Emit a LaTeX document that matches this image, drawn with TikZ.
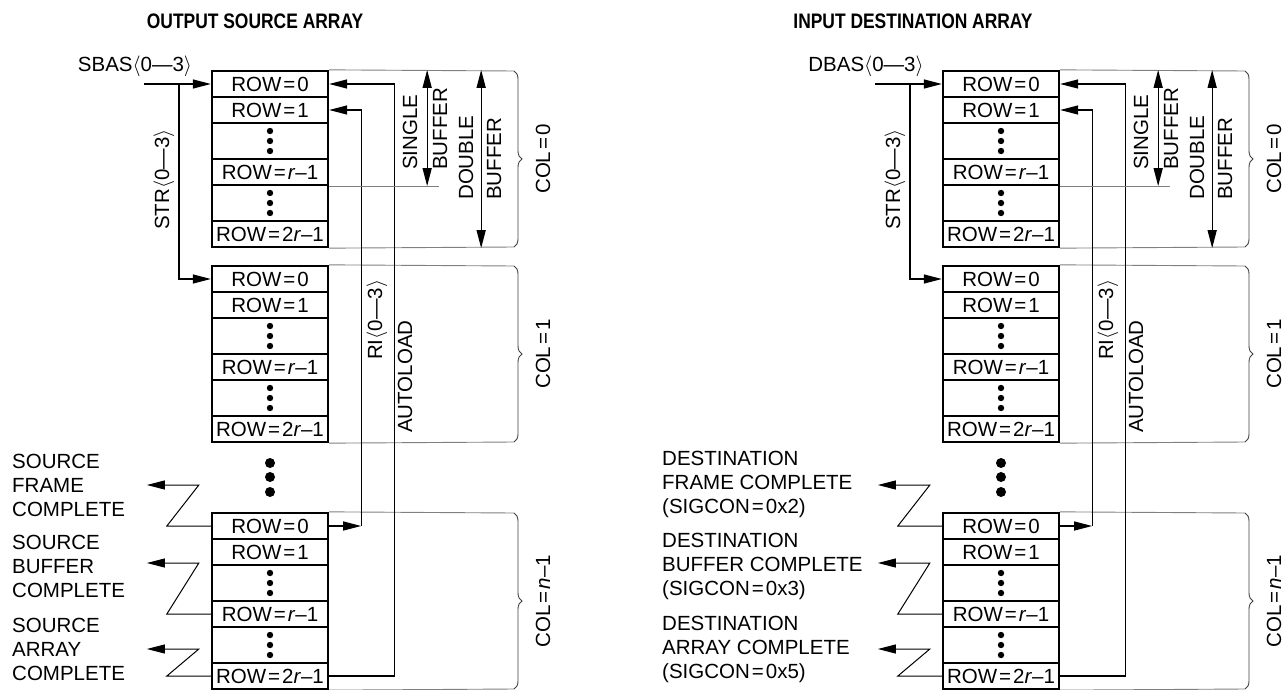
\documentclass[tikz,border=0pt]{standalone}
\usepackage{fontspec}
\setmainfont{Liberation Sans}
\newfontfamily\titlefont[FakeStretch=0.83]{Liberation Sans}
\usetikzlibrary{arrows.meta,decorations.pathreplacing}
\newcommand\eq{\kern2pt=\kern2pt}
\newcommand\rv{\textit{r}}
\newcommand\nv{\textit{n}}
\begin{document}
\begin{tikzpicture}[x=1pt, y=-1pt,
  font=\fontsize{20.5}{24}\selectfont,
  cell/.style={draw, line width=2.3pt, minimum width=116pt, inner sep=0pt},
  link/.style={line width=1.3pt},
  arr/.style={-{Triangle[length=18pt, width=9pt]}},
  dbl/.style={line width=1.3pt, {Triangle[length=18pt, width=9pt]}-{Triangle[length=18pt, width=9pt]}},
  zig/.style={line width=1pt, -{Triangle[length=18pt, width=9pt]}},
  thinline/.style={line width=0.9pt, black!50},
  colbrace/.style={decorate, decoration={brace, amplitude=8pt}, line width=0.9pt, black!75},
  vlabel/.style={rotate=90, anchor=west, inner sep=0pt},
  colname/.style={rotate=90, inner sep=0pt},
  sig/.style={anchor=west, align=left, inner sep=0pt},
  ttl/.style={font=\titlefont\fontsize{21}{24}\selectfont\bfseries}
]
\useasboundingbox (0,0) rectangle (1284,690);
% ---------- titles ----------
\node[ttl] (ttlL) at (255,21) {OUTPUT SOURCE ARRAY};
\node[ttl] (ttlR) at (913,21) {INPUT DESTINATION ARRAY};
% ---------- both arrays: source (L) and destination (R) ----------
\foreach \px/\p/\bas in {0/L/SBAS, 731/R/DBAS}{
  \foreach \k/\yt in {0/71, 1/266, 2/513}{
    \node[cell, minimum height=26pt] (\p\k-0) at (\px+270,\yt+13) {ROW\eq0};
    \node[cell, minimum height=26pt] (\p\k-1) at (\px+270,\yt+39) {ROW\eq1};
    \node[cell, minimum height=36pt] (\p\k-2) at (\px+270,\yt+70) {};
    \node[cell, minimum height=26pt] (\p\k-3) at (\px+270,\yt+101) {ROW\eq\rv–1};
    \node[cell, minimum height=36pt] (\p\k-4) at (\px+270,\yt+132) {};
    \node[cell, minimum height=26pt] (\p\k-5) at (\px+270,\yt+163) {ROW\eq2\rv–1};
    \foreach \dy in {-10,0,10}{
      \fill ([yshift=\dy pt]\p\k-2.center) circle (3.2pt);
      \fill ([yshift=\dy pt]\p\k-4.center) circle (3.2pt);
    }
    % bracket of the column
    \draw[thinline] (\p\k-0.north east) -- (\px+514,\yt);
    \draw[thinline] (\p\k-5.south east) -- (\px+514,\yt+176);
    \draw[colbrace] (\px+514,\yt) -- (\px+514,\yt+176);
  }
  \node[colname] (\p-c0) at (\px+543,159) {COL\eq0};
  \node[colname] (\p-c1) at (\px+543,354) {COL\eq1};
  \node[colname] (\p-c2) at (\px+543,601) {COL\eq\nv–1};
  % columns left out
  \foreach \dy in {463,477,492}
    \fill (\px+270,\dy) circle (5pt);
  % base address and stride
  \node (\p-bas) at (\px+135,66) {\bas$\langle$0—3$\rangle$};
  \coordinate (\p-in) at (\px+144,84);
  \coordinate (\p-str) at (\px+179,84);
  \draw[link, arr] (\p-in) -- (\p0-0.west);
  \draw[link, arr] (\p-str) |- (\p1-0.west);
  \node[vlabel] (\p-strl) at (\px+164,230) {STR$\langle$0—3$\rangle$};
  % row index and autoload
  \draw[link, arr] (\p2-0.east) -- ++(32,0) coordinate (\p-ri);
  \draw[link, arr] (\p-ri) |- (\p0-1.east);
  \draw[link, arr] (\p2-5.east) -| ([xshift=65pt]\p0-0.east) -- (\p0-0.east);
  \node[vlabel] (\p-ril) at (\px+377,360) {RI$\langle$0—3$\rangle$};
  \node[vlabel] (\p-al) at (\px+405,433) {AUTOLOAD};
  % single and double buffer
  \draw[thinline] (\p0-3.south east) -- ++(110,0);
  \draw[dbl] ([xshift=98pt]\p0-0.north east) -- ([xshift=98pt]\p0-3.south east);
  \draw[dbl] ([xshift=152pt]\p0-0.north east) -- ([xshift=152pt]\p0-5.south east);
  \node[vlabel, align=left] (\p-sb) at (\px+425,170) {SINGLE\\[6pt]BUFFER};
  \node[vlabel, align=left] (\p-db) at (\px+480,200) {DOUBLE\\[4pt]BUFFER};
  % completion signals
  \draw[zig] (\p2-0.west) -- ++(-44,0) -- ++(32,-41) -- ++(-52,0);
  \draw[zig] (\p2-3.west) -- ++(-44,0) -- ++(32,-51) -- ++(-52,0);
  \draw[zig] (\p2-5.west) -- ++(-44,0) -- ++(32,-27) -- ++(-52,0);
}
\node[sig] (Lfr) at (12,485) {SOURCE\\FRAME\\COMPLETE};
\node[sig] (Lbf) at (12,566) {SOURCE\\BUFFER\\COMPLETE};
\node[sig] (Lar) at (12,649) {SOURCE\\ARRAY\\COMPLETE};
\node[sig] (Rfr) at (662,484) {DESTINATION\\FRAME COMPLETE\\(SIGCON\eq0x2)};
\node[sig] (Rbf) at (662,566) {DESTINATION\\BUFFER COMPLETE\\(SIGCON\eq0x3)};
\node[sig] (Rar) at (662,649) {DESTINATION\\ARRAY COMPLETE\\(SIGCON\eq0x5)};
\end{tikzpicture}
\end{document}
